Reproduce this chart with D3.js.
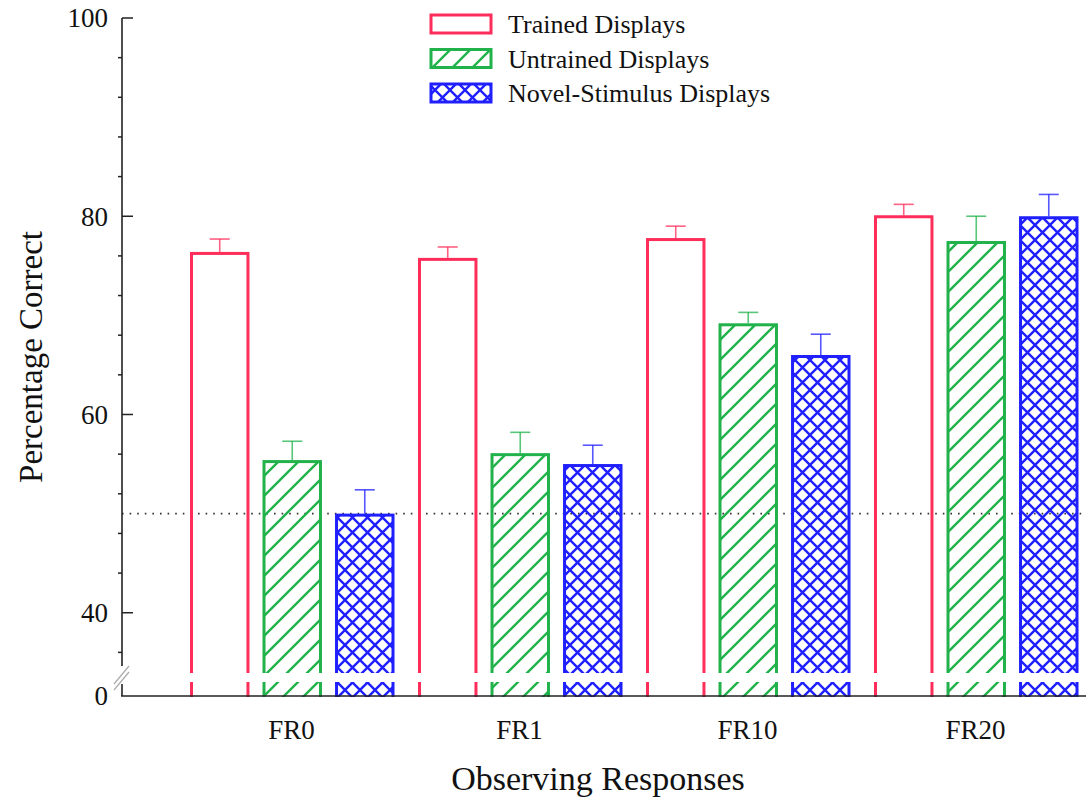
<!DOCTYPE html>
<html>
<head>
<meta charset="utf-8">
<script src="https://cdn.jsdelivr.net/npm/d3@7"></script>
<style>
  html, body { margin: 0; padding: 0; background: #fff; }
  svg { display: block; }
  text { font-family: "Liberation Serif", "Times New Roman", serif; fill: #111; }
</style>
</head>
<body>
<svg id="chart" width="1086" height="804"></svg>
<script>
const groups = ["FR0", "FR1", "FR10", "FR20"];
const seriesNames = ["Trained Displays", "Untrained Displays", "Novel-Stimulus Displays"];
const trained = [76.4, 75.8, 77.8, 80.1];
const untrained = [55.4, 56.1, 69.2, 77.5];
const novel = [50.0, 55.0, 66.0, 80.0];
const trainedErr = [1.3, 1.1, 1.2, 1.1];
const untrainedErr = [1.9, 2.1, 1.1, 2.5];
const novelErr = [2.4, 1.9, 2.1, 2.2];
const yTicks = [40, 60, 80, 100];
const yMinorTicks = [36, 44, 48, 52, 56, 64, 68, 72, 76, 84, 88, 92, 96];
const breakLabel = "0";
const chanceLevel = 50;

const colors = ["#ff2d5a", "#21b24b", "#1f1fff"];
const patterns = ["none", "hatch", "cross"];

const svg = d3.select("#chart");
const y = d3.scaleLinear().domain([31.6, 100]).range([696, 18]);
const x0 = d3.scaleBand().domain(groups).range([178.5, 1090.5]).padding(0);
const x1 = d3.scaleBand().domain(seriesNames).range([11.5, 216]).paddingInner(0.18).paddingOuter(0);

const defs = svg.append("defs");
const hatch = defs.append("pattern").attr("id", "hatch").attr("patternUnits", "userSpaceOnUse")
  .attr("width", 20).attr("height", 20);
hatch.append("path").attr("d", "M-5,5 L5,-5 M0,20 L20,0 M15,25 L25,15")
  .attr("stroke", colors[1]).attr("stroke-width", 2.4).attr("fill", "none");
const cross = defs.append("pattern").attr("id", "cross").attr("patternUnits", "userSpaceOnUse")
  .attr("width", 15).attr("height", 15);
cross.append("path").attr("d", "M-4,4 L4,-4 M0,15 L15,0 M11,19 L19,11 M-4,11 L4,19 M0,0 L15,15 M11,-4 L19,4")
  .attr("stroke", colors[2]).attr("stroke-width", 2.4).attr("fill", "none");

const data = [trained, untrained, novel];
const errs = [trainedErr, untrainedErr, novelErr];

function fillFor(i) { return patterns[i] === "none" ? "none" : `url(#${patterns[i]})`; }

// chance line
svg.append("line")
  .attr("x1", 122).attr("x2", 1086)
  .attr("y1", y(chanceLevel)).attr("y2", y(chanceLevel))
  .attr("stroke", "#333").attr("stroke-width", 1.6).attr("stroke-dasharray", "1.6,6");

// bars
groups.forEach((g, gi) => {
  seriesNames.forEach((s, si) => {
    const v = data[si][gi];
    const e = errs[si][gi];
    const bx = x0(g) + x1(s);
    const bw = x1.bandwidth();
    const cx = bx + bw / 2;
    svg.append("line").attr("x1", cx).attr("x2", cx).attr("y1", y(v)).attr("y2", y(v + e))
      .attr("stroke", colors[si]).attr("stroke-width", 1.6).attr("opacity", 0.75);
    svg.append("line").attr("x1", cx - 10).attr("x2", cx + 10).attr("y1", y(v + e)).attr("y2", y(v + e))
      .attr("stroke", colors[si]).attr("stroke-width", 1.6).attr("opacity", 0.75);
    svg.append("rect")
      .attr("x", bx + 1.5).attr("y", y(v) + 1.5)
      .attr("width", bw - 3).attr("height", y.range()[0] - y(v) + 2)
      .attr("fill", fillFor(si))
      .attr("stroke", colors[si]).attr("stroke-width", 3);
  });
});

// cover below axis and break band
svg.append("rect").attr("x", 108).attr("y", 697).attr("width", 978).attr("height", 10).attr("fill", "#fff");
svg.append("rect").attr("x", 108).attr("y", 673).attr("width", 978).attr("height", 9).attr("fill", "#fff");

// y axis
const axisG = svg.append("g");
axisG.append("line").attr("x1", 122).attr("x2", 122).attr("y1", y(100)).attr("y2", 666).attr("stroke", "#222").attr("stroke-width", 1.6);
axisG.append("line").attr("x1", 122).attr("x2", 122).attr("y1", 684).attr("y2", 696).attr("stroke", "#222").attr("stroke-width", 1.6);
axisG.append("line").attr("x1", 114).attr("x2", 129).attr("y1", 684).attr("y2", 666).attr("stroke", "#aaa").attr("stroke-width", 1.2);
axisG.append("line").attr("x1", 114).attr("x2", 129).attr("y1", 690).attr("y2", 672).attr("stroke", "#aaa").attr("stroke-width", 1.2);

yTicks.forEach(t => {
  axisG.append("line").attr("x1", 122).attr("x2", 133).attr("y1", y(t)).attr("y2", y(t)).attr("stroke", "#222").attr("stroke-width", 1.5);
  axisG.append("text").attr("x", 108).attr("y", y(t)).attr("dy", "0.35em").attr("text-anchor", "end")
    .attr("font-size", 27).text(t);
});
yMinorTicks.forEach(t => {
  axisG.append("line").attr("x1", 118).attr("x2", 122).attr("y1", y(t)).attr("y2", y(t)).attr("stroke", "#222").attr("stroke-width", 1.5);
});
axisG.append("text").attr("x", 108).attr("y", y.range()[0]).attr("dy", "0.35em").attr("text-anchor", "end")
  .attr("font-size", 27).text(breakLabel);

// x axis
svg.append("line").attr("x1", 121).attr("x2", 1086).attr("y1", 696).attr("y2", 696).attr("stroke", "#222").attr("stroke-width", 1.6);
groups.forEach(g => {
  svg.append("text").attr("x", x0(g) + x0.bandwidth() / 2 - 1).attr("y", 739)
    .attr("text-anchor", "middle").attr("font-size", 27).text(g);
});

// axis titles
svg.append("text").attr("x", 598).attr("y", 790).attr("text-anchor", "middle").attr("font-size", 34).text("Observing Responses");
svg.append("text").attr("transform", "translate(42,357) rotate(-90)").attr("text-anchor", "middle")
  .attr("font-size", 33).text("Percentage Correct");

// legend
const leg = svg.append("g");
seriesNames.forEach((s, i) => {
  const ly = 15 + i * 34.5;
  leg.append("rect").attr("x", 431).attr("y", ly).attr("width", 60).attr("height", 18)
    .attr("fill", fillFor(i)).attr("stroke", colors[i]).attr("stroke-width", 3);
  leg.append("text").attr("x", 508).attr("y", ly + 9).attr("dy", "0.35em").attr("font-size", 26).text(s);
});
</script>
</body>
</html>
